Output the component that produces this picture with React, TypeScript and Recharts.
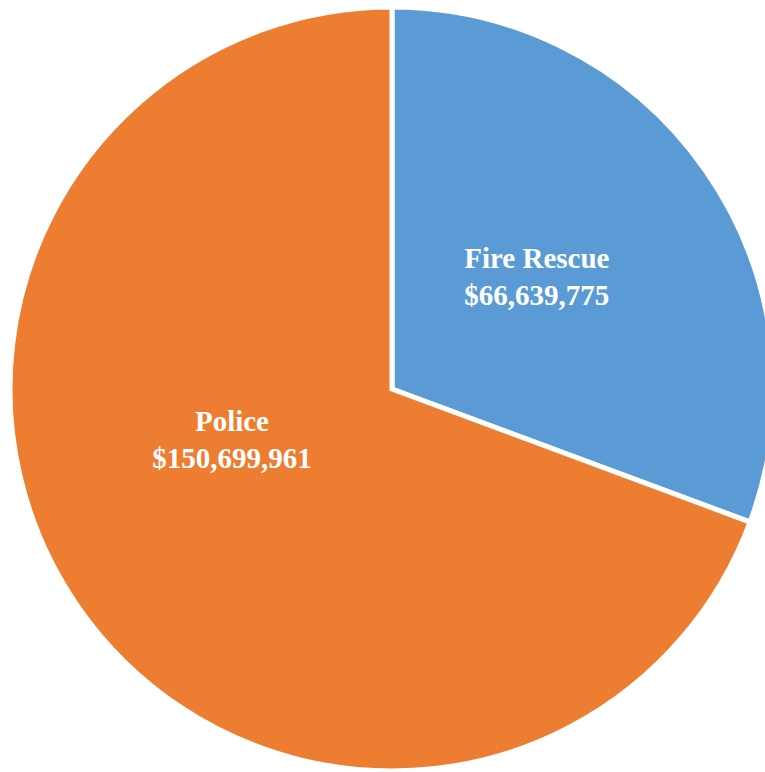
import React from "react";
import { PieChart, Pie, Cell } from "recharts";

// values
const departments = ["Fire Rescue", "Police"];
const budgets = [66639775, 150699961];
const sliceColors = ["#5B9BD5", "#ED7D31"];

const data = departments.map((name, i) => ({ name, value: budgets[i] }));

const RADIAN = Math.PI / 180;
// Excel "best fit" pushes the labels a bit off the mid angle
const labelAngleNudge = [3, -17];
const labelRadius = [0.48, 0.44];

const fmt = (v: number) => "$" + v.toLocaleString("en-US");

const renderLabel = (props: any) => {
  const { cx, cy, midAngle, outerRadius, index } = props;
  const a = (midAngle + labelAngleNudge[index]) * RADIAN;
  const r = outerRadius * labelRadius[index];
  const x = cx + r * Math.cos(-a);
  const y = cy + r * Math.sin(-a);
  return (
    <text
      x={x}
      y={y}
      fill="#fff"
      textAnchor="middle"
      fontFamily="'Liberation Serif', 'Times New Roman', serif"
      fontWeight="bold"
      fontSize={29}
    >
      <tspan x={x} dy={-9}>
        {data[index].name}
      </tspan>
      <tspan x={x} dy={37}>
        {fmt(data[index].value)}
      </tspan>
    </text>
  );
};

const App: React.FC = () => {
  return (
    <div style={{ position: "absolute", left: 0, top: 0, width: 765, height: 772, background: "#fff" }}>
      <PieChart width={765} height={772} margin={{ top: 0, right: 0, bottom: 0, left: 0 }}>
        <Pie
          data={data}
          dataKey="value"
          nameKey="name"
          cx={392}
          cy={389}
          outerRadius={382}
          startAngle={90}
          endAngle={-270}
          stroke="#fff"
          strokeWidth={5}
          label={renderLabel}
          labelLine={false}
          isAnimationActive={false}
        >
          {data.map((d, i) => (
            <Cell key={d.name} fill={sliceColors[i]} />
          ))}
        </Pie>
      </PieChart>
    </div>
  );
};

export default App;
